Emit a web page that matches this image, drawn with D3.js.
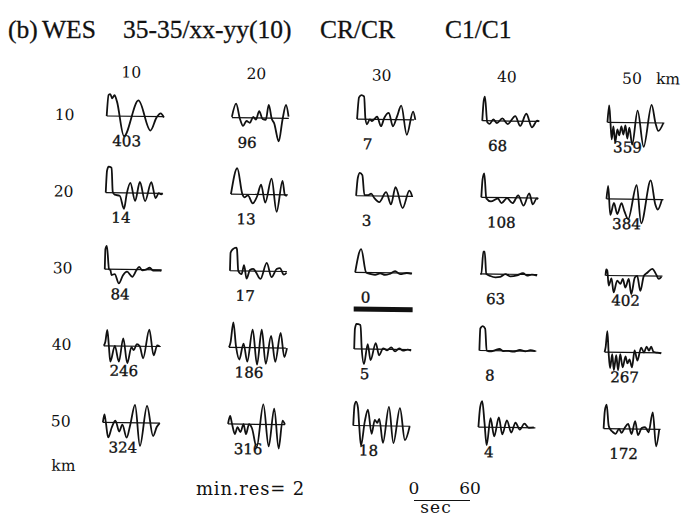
<!DOCTYPE html>
<html>
<head>
<meta charset="utf-8">
<script src="https://cdn.jsdelivr.net/npm/d3@7"></script>
<style>
  html, body { margin: 0; padding: 0; background: #fff; }
  svg { display: block; }
</style>
</head>
<body>
<svg id="chart" width="693" height="518"></svg>
<script>
// Grid offsets (km)
const colKm = [10, 20, 30, 40, 50];
const rowKm = [10, 20, 30, 40, 50];

// Residual printed under each trace (rows top to bottom, columns left to right)
const residuals = [
  [403, 96, 7, 68, 359],
  [14, 13, 3, 108, 384],
  [84, 17, 0, 63, 402],
  [246, 186, 5, 8, 267],
  [324, 316, 18, 4, 172]
];

// Trace turning points per row: [time (s), relative amplitude (%)]
const tracesRow10 = [
  [[0,0],[1.7,84],[3.5,88],[5.7,71],[8.1,84],[10.7,60],[18.8,-80],[33.8,64],[47.1,-56],[53.5,-3],[57.8,13],[61.3,-3]],
  [[0,3],[4.3,56],[8.6,-4],[12.1,-33],[15.7,-13],[19.3,-20],[22.8,4],[25.7,-7],[29.2,27],[32.8,-4],[36.4,-7],[39.3,53],[42.8,-4],[45.3,-20],[50.6,-93],[54.2,-7],[57.8,53],[60.7,7]],
  [[0,0],[1.8,87],[4.3,96],[7.2,91],[8.9,3],[10.7,-20],[13.6,0],[16,-7],[18.9,3],[21.4,11],[25.7,-27],[29.2,7],[33.9,27],[38.5,-27],[42.8,13],[47.1,56],[53.5,-60],[59.9,33],[62.4,0]],
  [[0,0],[1.3,80],[2.5,96],[5.4,-6],[8,-12],[11.8,6],[15.8,-9],[21.4,10],[27.3,-12],[35.3,20],[40.7,-19],[47.1,30],[53.3,-24],[58.9,3],[61,0]],
  [[0,0],[1.6,68],[3.2,0],[4.8,-68],[6.4,-16],[8.6,-80],[10.7,-28],[12.8,-52],[15,-16],[17.1,-48],[19.3,-12],[21.4,-64],[23.5,-20],[26.8,-88],[32.1,48],[39.1,-96],[47.1,72],[51.4,0],[54.6,-32],[59.9,0]]
];
const tracesRow20 = [
  [[0,0],[1.1,88],[2.7,104],[5.9,100],[7.5,4],[9.6,-8],[15,-12],[19.8,-64],[22.5,-4],[26.2,40],[31.6,-32],[36.4,44],[42.3,-32],[48.7,44],[53.5,-20],[56.7,0],[59.4,-4],[61,0]],
  [[0,0],[6.4,104],[12.3,0],[14.4,-12],[18.2,-4],[23.5,-36],[28.4,-4],[32.1,40],[36.9,-32],[43.3,64],[49.2,-68],[55.1,56],[57.8,0],[59.9,-4]],
  [[0,0],[1.6,72],[3.7,92],[6.4,83],[8.9,3],[12.5,3],[16.1,9],[19.3,-7],[24.9,-24],[32.1,16],[37.5,-33],[42.1,36],[50,-47],[57,23],[59.9,2]],
  [[0,0],[1.1,72],[2.8,96],[5.4,-4],[10.3,-16],[17.8,-4],[21.7,-22],[27.6,-2],[33.6,-22],[39.5,10],[45.4,-31],[51.3,18],[55.3,-26],[59.3,-2],[61,-4]],
  [[0,0],[1.6,52],[4.3,-64],[8,-16],[11.8,-60],[16.1,-16],[19.3,-48],[23.5,-80],[32.1,56],[37.5,-96],[47.1,76],[52.4,-20],[55.1,-40],[59.4,0]]
];
const tracesRow30 = [
  [[0,0],[0.4,80],[1.9,93],[4.6,0],[6.1,-3],[7.2,-23],[10.7,-19],[15.3,-56],[19.6,-23],[23.9,-9],[29.6,-29],[33.9,-3],[36.7,11],[40.3,-3],[43.9,0],[48.2,8],[51.7,-3],[58.9,-3],[60.7,-4]],
  [[0,0],[0.4,72],[2.9,87],[6.4,93],[7.2,87],[8.9,0],[12.5,-13],[15,23],[17.9,-31],[21.4,4],[24.9,9],[27.8,-4],[32.8,-31],[39.3,33],[44.6,-23],[50,9],[53.5,13],[57.8,-13],[60.7,-4]],
  [[0,0],[6.1,93],[11.8,0],[16.1,-5],[21.4,-9],[26.8,-3],[32.1,-9],[36.7,-5],[42.8,7],[48.2,-5],[55.3,0],[60.7,-3]],
  [[0,0],[1.1,0],[2.9,89],[4.3,89],[6.4,0],[10.7,-8],[16.1,-13],[21.4,-11],[26.8,0],[32.1,-8],[39.3,-4],[45.7,5],[50,-4],[55.3,0],[60.7,-4]],
  [[0,0],[0.5,24],[1.8,20],[3.5,-40],[6.4,-11],[8.9,-67],[12.5,-20],[16.1,-33],[18.5,-13],[21.4,-47],[24.9,-13],[27.8,-73],[31.4,-7],[33.9,0],[37.5,-60],[41,0],[44.6,13],[50,29],[54.2,7],[57,-11],[59.9,-3]]
];
const tracesRow40 = [
  [[0,0],[1.6,16],[3.5,64],[5.4,0],[7.2,-63],[11.8,0],[16.4,-63],[20.7,31],[25.4,-68],[29.6,-4],[32.1,-16],[35.3,8],[38.5,0],[42.3,-48],[48.5,67],[53.5,-36],[57.2,4],[59.9,0]],
  [[0,0],[1.6,20],[4.3,100],[7.5,4],[11.2,-48],[15.5,16],[19.8,-56],[25.1,72],[30.3,-68],[34.8,72],[39.6,-64],[44.9,48],[49.8,-56],[55.1,60],[59.4,-36],[62.1,0]],
  [[0,0],[0.5,80],[2.1,100],[6.4,96],[8,4],[10.7,-60],[14.4,20],[17.7,-44],[23,24],[26.8,-24],[31,4],[35.3,-4],[39.6,8],[43.9,-8],[48.2,4],[52.4,-4],[57.2,0],[61,-4]],
  [[0,0],[0.7,88],[3.2,98],[5.9,88],[7.8,0],[12.8,-3],[17.1,2],[21.4,7],[25.7,-1],[31,0],[36.4,-3],[43.5,4],[49.2,-1],[54.6,4],[59.6,0]],
  [[0,0],[1.1,20],[2.7,84],[4.3,0],[6.1,-64],[8.2,-8],[10.2,-72],[12.5,-12],[14.7,-72],[16.8,-8],[19.6,-60],[22.5,-16],[24.6,-44],[26.8,-28],[29.6,-60],[32.1,8],[35.3,-32],[39.1,20],[42.3,0],[44.9,24],[47.6,8],[49.8,24],[52.4,4],[56.7,0],[60.5,-2]]
];
const tracesRow50 = [
  [[0,0],[1.6,32],[3.2,0],[5.9,-60],[9.6,-20],[13.4,8],[17.7,-36],[20.9,-8],[25.7,-60],[29.4,-8],[34.2,72],[40.1,-92],[47.1,68],[54,-52],[57.8,-16],[61,0]],
  [[0,0],[2.1,32],[4.3,0],[7.5,-40],[10.2,-12],[13.4,-32],[16.6,0],[19.3,-40],[22.5,0],[25.7,-16],[31,-92],[37.5,80],[43.9,-88],[49.2,64],[54.6,-96],[58.3,16],[61,0]],
  [[0,0],[1.1,80],[2.7,96],[4.8,72],[6.4,0],[8.6,-80],[12.3,16],[15.5,64],[19.8,-32],[23,24],[25.7,12],[27.8,28],[32.1,-68],[38,76],[43.3,-68],[49.8,72],[55.6,-56],[60.5,0]],
  [[0,0],[1.6,80],[3.7,104],[6.4,20],[9.1,-72],[12.8,36],[17.1,-36],[21.7,40],[25.7,-28],[30.4,28],[35.3,-20],[39.6,20],[44.4,-8],[49.2,16],[54,0],[59.4,2]],
  [[0,0],[1.1,72],[2.9,96],[5.4,12],[7.5,-4],[9.6,-12],[12.8,-20],[16.6,0],[19.3,-16],[22.5,4],[26.2,20],[30,-20],[33.7,32],[36.9,-24],[40.7,4],[44.4,8],[48.2,-12],[52.4,68],[56.5,-68],[59.6,0]]
];
const traceRows = [tracesRow10, tracesRow20, tracesRow30, tracesRow40, tracesRow50];

// Header and footer text
const titleParts = ["(b)", "WES", "35-35/xx-yy(10)", "CR/CR", "C1/C1"];
const minResText = "min.res= 2";
const timeBar = [0, 60];      // seconds
const timeUnit = "sec";
const distUnit = "km";

// ---------------------------------------------------------------
const svg = d3.select("#chart");
const ink = "#111";

// Time and amplitude scales shared by every small trace
const tScale = d3.scaleLinear().domain([0, 60]).range([0, 56]);
const aScale = d3.scaleLinear().domain([-100, 100]).range([25, -25]);

// Grid placement of the trace panels
const colPos = d3.scaleLinear().domain([0, 4]).range([0, 4 * 125.2]);
const rowPos = d3.scaleLinear().domain([0, 4]).range([0, 4 * 76.6]);

const line = d3.line()
  .x(d => tScale(d[0]))
  .y(d => aScale(d[1]))
  .curve(d3.curveMonotoneX);

// Title
const titleX = [8, 42, 123, 320, 445];
svg.append("g")
  .selectAll("text")
  .data(titleParts)
  .join("text")
  .attr("x", (d, i) => titleX[i])
  .attr("y", 38)
  .attr("font-family", "'Liberation Serif', 'Times New Roman', serif")
  .attr("font-size", 25.5)
  .attr("fill", ink)
  .attr("stroke", ink)
  .attr("stroke-width", 0.3)
  .text(d => d);

// Grid group (slightly tilted, as printed)
const grid = svg.append("g")
  .attr("transform", "translate(106.7,116) rotate(0.72)");

const numFont = "'DejaVu Serif', serif";

// Column headers
grid.append("g")
  .selectAll("text")
  .data(colKm)
  .join("text")
  .attr("x", (d, j) => colPos(j) + 24)
  .attr("y", -38.8)
  .attr("text-anchor", "middle")
  .attr("font-family", numFont)
  .attr("font-size", 15.5)
  .attr("fill", ink)
  .text(d => d);
grid.append("text")
  .attr("x", colPos(4) + 24 + 24)
  .attr("y", -38.8)
  .attr("font-family", numFont)
  .attr("font-size", 15.5)
  .attr("fill", ink)
  .text(distUnit);

// Row headers
grid.append("g")
  .selectAll("text")
  .data(rowKm)
  .join("text")
  .attr("x", -52)
  .attr("y", (d, i) => rowPos(i) + 4.6)
  .attr("font-family", numFont)
  .attr("font-size", 15.5)
  .attr("fill", ink)
  .text(d => d);
grid.append("text")
  .attr("x", -51)
  .attr("y", rowPos(4) + 49)
  .attr("font-family", numFont)
  .attr("font-size", 15.5)
  .attr("fill", ink)
  .text(distUnit);

// Panels
const minRes = d3.min(residuals.flat());
traceRows.forEach((row, i) => {
  row.forEach((pts, j) => {
    const g = grid.append("g")
      .attr("transform", `translate(${colPos(j)},${rowPos(i)})`);
    // zero line
    g.append("line")
      .attr("x1", tScale(0)).attr("x2", tScale(61))
      .attr("y1", aScale(0)).attr("y2", aScale(0))
      .attr("stroke", ink).attr("stroke-width", 1.2);
    // trace
    g.append("path")
      .attr("d", line(pts))
      .attr("fill", "none")
      .attr("stroke", ink)
      .attr("stroke-width", 1.8)
      .attr("stroke-linejoin", "round");
    // residual label
    const r = residuals[i][j];
    g.append("text")
      .attr("x", 6)
      .attr("y", aScale(0) + 30)
      .attr("font-family", numFont)
      .attr("font-size", 15)
      .attr("fill", ink)
      .attr("stroke", ink)
      .attr("stroke-width", 0.35)
      .text(r);
    // best-fit marker
    if (r === minRes) {
      g.append("rect")
        .attr("x", tScale(0) - 1)
        .attr("width", tScale(61) + 2)
        .attr("y", aScale(0) + 34.3)
        .attr("height", 5)
        .attr("fill", ink);
    }
  });
});

// Footer: minimum residual and time scale bar
svg.append("text")
  .attr("x", 196)
  .attr("y", 495)
  .attr("font-family", numFont)
  .attr("font-size", 18)
  .attr("letter-spacing", 0.8)
  .attr("fill", ink)
  .text(minResText);

const barG = svg.append("g").attr("transform", "translate(414,0)");
barG.append("line")
  .attr("x1", tScale(timeBar[0])).attr("x2", tScale(timeBar[1]))
  .attr("y1", 500.5).attr("y2", 500.5)
  .attr("stroke", ink).attr("stroke-width", 1.2);
barG.selectAll("text.tick")
  .data(timeBar)
  .join("text")
  .attr("class", "tick")
  .attr("x", d => tScale(d))
  .attr("y", 494)
  .attr("text-anchor", "middle")
  .attr("font-family", numFont)
  .attr("font-size", 17)
  .attr("fill", ink)
  .text(d => d);
barG.append("text")
  .attr("x", 22)
  .attr("y", 513)
  .attr("text-anchor", "middle")
  .attr("font-family", numFont)
  .attr("font-size", 17)
  .attr("letter-spacing", 1)
  .attr("fill", ink)
  .text(timeUnit);
</script>
</body>
</html>
